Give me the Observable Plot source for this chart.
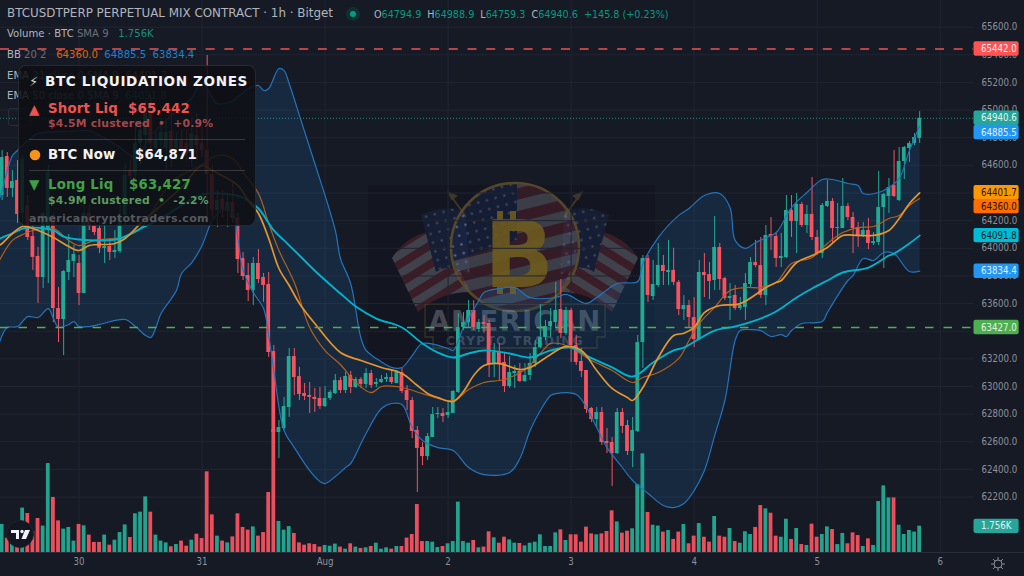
<!DOCTYPE html>
<html><head><meta charset="utf-8">
<script src="https://cdn.jsdelivr.net/npm/d3@7"></script>
<script src="https://cdn.jsdelivr.net/npm/@observablehq/plot@0.6"></script>
<style>
html,body{margin:0;padding:0;background:#161a25;width:1024px;height:576px;overflow:hidden;font-family:"DejaVu Sans",sans-serif}
#wm,#chart{position:absolute;left:0;top:0}
.t{position:absolute;white-space:pre;line-height:1}
#panel{position:absolute;left:18px;top:65px;width:238px;height:161px;box-sizing:border-box;border:1px solid rgba(255,255,255,.1);border-radius:8px;background:rgba(14,15,19,.86)}
.hr{position:absolute;left:29px;width:216px;height:1px;background:rgba(255,255,255,.17)}
.lg{font-size:10.1px;color:#b2b5be}
.dim{color:#6c6f78}
</style></head><body>
<svg id="wm" width="1024" height="576" viewBox="0 0 1024 576">
<defs>
<pattern id="stL" width="16" height="16" patternUnits="userSpaceOnUse" patternTransform="rotate(-32)"><rect width="16" height="8" fill="#8c2c36"/><rect y="8" width="16" height="8" fill="#9a9aa0"/></pattern>
<pattern id="stR" width="16" height="16" patternUnits="userSpaceOnUse" patternTransform="rotate(32)"><rect width="16" height="8" fill="#8c2c36"/><rect y="8" width="16" height="8" fill="#9a9aa0"/></pattern>
<pattern id="stC" width="22" height="22" patternUnits="userSpaceOnUse" patternTransform="rotate(-14)"><rect width="22" height="11" fill="#7c2832"/><rect y="11" width="22" height="11" fill="#8f8f96"/></pattern>
<pattern id="stars" width="9" height="9" patternUnits="userSpaceOnUse" patternTransform="rotate(-15)"><rect width="9" height="9" fill="#1c2f5c"/><circle cx="4.5" cy="4.5" r="1.3" fill="#a9adb8"/></pattern>
<clipPath id="disc"><circle cx="515" cy="247" r="63"/></clipPath>
</defs>
<rect x="368" y="185" width="287" height="205" fill="#0d1119" opacity=".35"/>
<g opacity=".33">
<path d="M392,258 Q408,232 441,230 L470,292 Q440,292 418,312 Z" fill="url(#stL)"/>
<path d="M638,258 Q622,232 589,230 L560,292 Q590,292 612,312 Z" fill="url(#stR)"/>
<path d="M421,215 Q445,203 465,212 L470,275 Q450,262 436,272 Z" fill="url(#stars)"/>
<path d="M609,215 Q585,203 565,212 L560,275 Q580,262 594,272 Z" fill="url(#stars)"/>
</g>
<g opacity=".5" stroke="#6a5830" stroke-width="2" fill="#6a5830">
<line x1="449" y1="193" x2="466" y2="217"/><line x1="581" y1="193" x2="564" y2="217"/>
<path d="M449,193 l7,3 l-4,3 z"/><path d="M581,193 l-7,3 l4,3 z"/>
</g>
<g clip-path="url(#disc)" opacity=".33">
<rect x="450" y="180" width="130" height="135" fill="url(#stC)"/>
<path d="M450,180 H517 V240 L450,262 Z" fill="url(#stars)"/>
</g>
<circle cx="515" cy="247" r="64" fill="none" stroke="#5c4c2a" stroke-width="2.6" opacity=".9"/>
<g fill="#6e5b1f" opacity=".9">
<rect x="497" y="211" width="6" height="16"/><rect x="510" y="211" width="6" height="16"/>
<rect x="497" y="278" width="6" height="16"/><rect x="510" y="278" width="6" height="16"/>
<text x="519" y="287" text-anchor="middle" font-family="DejaVu Sans" font-weight="700" font-size="92">B</text>
</g>
<g opacity=".42">
<path d="M425,304 H605 V337 H597 V348 H433 V337 H425 Z" fill="#161a25" fill-opacity=".6" stroke="#6f5a2e" stroke-width="1.3"/>
<text x="515" y="331" text-anchor="middle" font-family="DejaVu Sans" font-weight="700" font-size="27.5" letter-spacing="1.2" fill="#8d9098">AMERICAN</text>
<text x="515" y="345" text-anchor="middle" font-family="DejaVu Sans" font-weight="700" font-size="12" letter-spacing="1.4" fill="#7c7f87">CRYPTO TRADING</text>
</g>
</svg>
<div id="chart"></div>

<div class="t" style="left:7px;top:8px;font-size:11.9px;color:#b2b5be">BTCUSDTPERP PERPETUAL MIX CONTRACT · 1h · Bitget</div>
<svg style="position:absolute;left:343px;top:4px" width="20" height="20"><circle cx="10" cy="10" r="7" fill="#0b3a36" opacity=".7"/><circle cx="10" cy="10" r="3" fill="#089981"/></svg>
<div class="t" style="left:374px;top:10px;font-size:9.6px;color:#089981"><span style="color:#b2b5be">O</span>64794.9 <span style="color:#b2b5be"> H</span>64988.9 <span style="color:#b2b5be"> L</span>64759.3 <span style="color:#b2b5be"> C</span>64940.6  +145.8 (+0.23%)</div>
<div class="t lg" style="left:7px;top:29px">Volume · BTC <span class="dim">SMA 9</span>   <span style="color:#168f7d">1.756K</span></div>
<div class="t lg" style="left:7px;top:50px">BB <span class="dim">20 2</span>   <span style="color:#e0640f">64360.0</span>  <span style="color:#2180d0">64885.5</span>  <span style="color:#2180d0">63834.4</span></div>
<div class="t lg" style="left:7px;top:71px">EMA <span class="dim">21 close 0 SMA 9</span>  <span style="color:#a86c18">64401.7</span></div>
<div class="t lg" style="left:7px;top:91px">EMA <span class="dim">50 close 0 SMA 9</span>  <span style="color:#0b7c8a">64091.8</span></div>
<div style="position:absolute;left:8px;top:108px;width:21px;height:16px;border:1px solid #2a2e39;border-radius:3px"></div>

<div id="panel"></div>
<div class="t" style="left:29px;top:75px;font-size:13px;font-weight:700;color:#d6d7da">⚡</div>
<div class="t" style="left:45px;top:75px;font-size:13.6px;font-weight:700;color:#f2f2f4;letter-spacing:.6px">BTC LIQUIDATION ZONES</div>
<div class="t" style="left:29px;top:103px;font-size:13.5px;color:#ef5350">▲</div>
<div class="t" style="left:48px;top:102px;font-size:13.3px;font-weight:700;color:#ef5350;letter-spacing:.2px">Short Liq</div>
<div class="t" style="left:128px;top:102px;font-size:13.3px;font-weight:700;color:#ef5350;letter-spacing:.2px">$65,442</div>
<div class="t" style="left:48px;top:119px;font-size:10.8px;font-weight:700;color:#a5474c;letter-spacing:.25px">$4.5M clustered  •  +0.9%</div>
<div class="hr" style="top:139px"></div>
<svg style="position:absolute;left:29px;top:148px" width="13" height="14"><circle cx="6" cy="7" r="5.3" fill="#f7931a"/></svg>
<div class="t" style="left:48px;top:148px;font-size:13.3px;font-weight:700;color:#f2f2f4;letter-spacing:.2px">BTC Now</div>
<div class="t" style="left:135px;top:148px;font-size:13.3px;font-weight:700;color:#f2f2f4;letter-spacing:.2px">$64,871</div>
<div class="hr" style="top:170px"></div>
<div class="t" style="left:29px;top:178px;font-size:13.5px;color:#3f9f47">▼</div>
<div class="t" style="left:48px;top:178px;font-size:13.3px;font-weight:700;color:#43a047;letter-spacing:.2px">Long Liq</div>
<div class="t" style="left:129px;top:178px;font-size:13.3px;font-weight:700;color:#43a047;letter-spacing:.2px">$63,427</div>
<div class="t" style="left:48px;top:196px;font-size:10.8px;font-weight:700;color:#5c9a60;letter-spacing:.25px">$4.9M clustered  •  -2.2%</div>
<div class="t" style="left:29px;top:213px;font-size:11px;font-weight:700;color:#55585f;letter-spacing:.3px">americancryptotraders.com</div>

<svg style="position:absolute;left:6px;top:520px" width="28" height="28"><circle cx="14" cy="14" r="13.5" fill="#131722" stroke="#1f2330"/><path d="M5,10 H13 V19 H10 V13 H5 Z" fill="#f0f3fa"/><circle cx="16" cy="11.5" r="1.7" fill="#f0f3fa"/><path d="M19,10 H24 L20,19 H15.5 Z" fill="#f0f3fa"/></svg>
<svg style="position:absolute;left:991px;top:557px" width="14" height="14" fill="none" stroke="#8a8d96"><circle cx="7" cy="7" r="4"/><path d="M7,0 V3 M7,11 V14 M0,7 H3 M11,7 H14 M2,2 L4,4 M10,10 L12,12 M2,12 L4,10 M10,4 L12,2"/></svg>

<script>
const firstHour=-15;
const opens=[64382,64664,64433,64491,64252,64310,64085,63941,63789,64129,
64237,63564,63485,63825,63905,63890,63673,64252,64158,64143,
63999,64013,63970,63977,64237,64563,64541,64758,64816,64983,
64722,64780,64722,64845,64722,64780,64758,64686,64816,64758,
64708,64534,64274,64353,64281,64331,64216,63926,63803,63695,
63890,63789,63738,63253,62667,62696,62848,63217,63072,62949,
62935,62921,62913,62855,62913,62949,63043,62971,63080,62993,
63051,63015,63094,63015,63029,63051,63065,63022,63101,62971,
62899,62682,62559,62493,62631,62797,62805,62790,62805,62957,
63427,63463,63550,63413,63463,63456,63159,63246,63174,63000,
63094,63109,63036,63080,63167,63282,63355,63434,63463,63557,
63384,63550,63297,63181,63116,62841,62761,62812,62602,62595,
62515,62812,62718,62530,62674,63318,63926,63651,63731,63876,
63825,63840,63753,63557,63586,63499,63340,63825,63810,63767,
64006,63781,63637,63659,63564,63572,63738,63897,63875,63659,
64100,64085,63926,63933,64274,64194,64317,64165,64245,64078,
63962,64303,64339,64143,64143,64303,64223,64151,64093,64129,
64035,64042,64295,64375,64454,64346,64628,64722,64758,64794.9];
const closes=[64657,64433,64483,64245,64642,64078,63934,63789,64252,64548,
63564,63485,63832,63912,63955,63673,64252,64158,64114,64000,
64013,63970,63984,64223,64527,64520,64758,64852,64983,64758,
64780,64838,64838,64708,64780,64708,64686,64831,64744,64708,
64534,64274,64346,64281,64331,64216,63919,63796,63695,63890,
63774,63731,63246,62667,62703,62855,63217,63065,62942,62928,
62921,62906,62855,62913,62957,63043,62971,63073,62993,63051,
63015,63094,63007,63029,63051,63065,63029,63101,62964,62899,
62675,62552,62493,62638,62797,62805,62783,62812,62964,63427,
63463,63550,63427,63463,63449,63159,63246,63159,63000,63101,
63109,63036,63080,63167,63282,63355,63434,63470,63550,63384,
63550,63297,63174,63109,62834,62761,62812,62595,62588,62515,
62812,62711,62530,62682,63318,63926,63659,63738,63876,63832,
63840,63753,63557,63586,63499,63340,63825,63803,63760,64006,
63774,63637,63651,63564,63586,63745,63897,63875,63659,64093,
64085,63926,63941,64274,64194,64317,64165,64245,64078,63962,
64310,64339,64143,64151,64303,64223,64143,64085,64129,64035,
64049,64295,64389,64440,64375,64628,64729,64758,64802,64940.6];
const highs=[64708,64693,64563,64635,64671,64382,64165,64006,64259,64599,
64260,63716,63840,64100,64020,63948,64310,64310,64237,64201,
64201,64071,64129,64310,64614,64635,64903,64925,65070,65106,
64838,64939,64925,64975,64838,64852,64852,64947,64975,64888,
65395,64599,64418,64418,64404,64469,64252,63970,63890,63933,
63991,63818,63825,63297,62754,62920,63275,63275,63138,63022,
63029,62986,62993,63000,62971,63087,63065,63101,63109,63065,
63065,63130,63116,63058,63080,63094,63116,63116,63130,63007,
62920,62711,62595,62660,62848,62848,62841,62884,62971,63528,
63535,63622,63622,63485,63514,63478,63311,63311,63239,63217,
63152,63166,63166,63239,63333,63593,63478,63564,63753,63774,
63572,63564,63369,63275,63116,62848,62848,62848,62696,62631,
62841,62841,62754,62776,63369,63948,63948,63912,64035,63948,
64057,64000,63767,63658,63622,63644,63912,63962,63897,64230,
64035,63789,63745,63731,63644,63818,63933,64057,64078,64165,
64223,64107,64107,64382,64382,64396,64331,64310,64512,64129,
64324,64491,64360,64324,64505,64324,64259,64187,64187,64216,
64114,64556,64396,64505,64708,64729,64737,64773,64831,64988.9];
const lows=[64346,64368,64368,64180,64165,64057,63840,63601,63709,63745,
63463,63318,63224,63767,63789,63586,63673,64129,64093,63962,
63890,63912,63926,63962,64165,64491,64491,64599,64635,64671,
64635,64635,64563,64585,64635,64635,64635,64585,64635,64657,
64180,64216,64151,64216,64151,64180,63818,63767,63615,63586,
63745,63608,63210,62479,62479,62682,62776,62935,62899,62899,
62805,62812,62834,62848,62899,62942,62949,62949,62949,62986,
62986,62986,62986,62993,63022,63029,63015,63022,62949,62826,
62624,62233,62428,62465,62631,62768,62739,62768,62805,62950,
63405,63420,63405,63391,63384,63065,63065,63043,62957,62986,
62986,63029,63029,63043,63138,63275,63333,63355,63420,63347,
63369,63174,63152,63065,62805,62739,62696,62573,62515,62276,
62508,62660,62501,62414,62667,63130,63608,63622,63717,63731,
63731,63731,63514,63478,63427,63282,63333,63644,63629,63695,
63695,63622,63478,63550,63550,63478,63717,63861,63637,63586,
63984,63861,63861,63926,64078,63962,64151,64107,64057,63948,
63926,64295,64042,64057,64143,64201,63962,64006,64078,63991,
64020,64020,63854,64252,64368,64339,64498,64621,64744,64759.3];
const volumes=[1.87,0.95,0.6,0.6,2.96,2.6,1.38,2.27,1.76,5.93,
3.67,2.11,1.56,1.67,0.76,1.87,1.78,1.16,0.67,0.67,
1.16,0.49,0.82,1.33,1.84,1.0,2.58,2.69,3.71,2.69,
1.16,0.76,0.64,0.38,0.53,0.76,0.42,0.82,1.22,0.93,
5.38,2.51,1.09,0.76,0.64,1.04,2.58,1.67,1.49,1.71,
1.09,1.33,4.0,8.2,2.07,1.49,1.73,1.27,0.64,0.49,
0.58,0.53,0.36,0.47,0.42,0.56,0.36,0.22,0.58,0.36,
0.27,0.31,0.4,0.62,0.22,0.31,0.22,0.4,0.4,0.96,
1.2,3.2,0.73,0.73,0.69,0.33,0.4,0.58,0.73,3.36,
0.73,0.62,0.8,0.31,0.36,1.38,0.98,0.62,1.02,0.84,
0.62,0.6,0.44,0.62,0.69,1.18,0.4,0.4,1.31,1.51,
0.8,1.18,1.18,0.69,1.69,1.24,1.18,1.24,1.4,2.78,
2.04,1.29,1.42,1.58,4.53,6.58,2.67,1.82,1.76,1.36,
1.47,0.87,1.36,1.87,0.58,1.09,1.93,1.02,0.69,2.4,
1.09,1.02,1.6,0.73,0.62,1.38,1.2,1.67,3.13,2.91,
2.62,1.09,1.02,2.22,0.87,1.6,0.53,0.47,1.89,1.02,
1.2,1.71,1.53,0.53,1.27,0.58,1.31,1.13,0.4,0.91,
0.47,3.4,4.44,3.64,3.64,1.82,1.2,1.47,1.36,1.756];

const upperH=[-16,-15,-14,-13,-12,-10,-8,-2,2,4,8,11,14,18,22,24,27,30,33,35,36,37,39,40,41,43,46,50,51,53,55,56,58,61,63,65,67,72,73,75,78,79,82,85,88,93,95,99,101,105,109,110,113,117,119,122,125,127,128,130,132,136,137,139,142,145,147,150,152,153,156,158,160,162,164];
const upperV=[64310,64418,64563,64671,64708,64780,64831,64845,64852,64816,64730,64660,64816,64961,65091,65200,65048,65070,65156,65178,65142,65156,65301,65286,65192,64960,64614,64129,63926,63745,63350,63261,63203,63138,63138,63224,63311,63275,63261,63427,63622,63680,63709,63716,63644,63644,63666,63601,63644,63745,63760,63890,64078,64238,64288,64382,64397,64295,64057,64000,64042,64114,64165,64295,64404,64498,64498,64469,64454,64396,64404,64440,64505,64708,64885.5];
const lowerH=[-16,-15,-14,-12,-10,-8,-6,-5,-4,-2,-1,0,2,4,9,11,13,14,15,16,19,20,22,24,26,28,30,31,32,34,36,37,38,40,42,45,47,48,50,52,53,55,56,59,61,63,65,67,70,73,76,79,84,86,88,90,92,93,97,99,101,103,106,108,111,114,116,118,120,122,124,126,128,129,131,133,135,137,138,139,141,145,146,148,150,151,153,155,157,159,162,164];
const lowerV=[63260,63369,63427,63434,63506,63499,63564,63492,63427,63449,63470,63434,63434,63449,63485,63434,63369,63355,63427,63528,63695,63818,63897,64020,64201,64274,64259,64071,63840,63680,63564,63369,63116,62682,62558,62392,62313,62298,62349,62414,62443,62587,62660,62841,62877,62870,62703,62609,62558,62537,62414,62363,62378,62479,62682,62826,62935,62949,62942,62848,62703,62558,62414,62320,62226,62139,62124,62153,62247,62392,62645,62899,63333,63405,63412,63405,63362,63376,63362,63405,63456,63470,63535,63658,63767,63803,63926,63912,63970,63962,63832,63834.4];
const emaFastH=[-16,-15,-13,-11,-9,-5,-2,0,2,7,9,12,16,20,24,26,31,33,35,37,39,41,43,46,51,55,59,63,66,68,70,73,75,77,79,82,86,88,92,95,98,101,104,107,108,110,113,116,118,120,122,125,129,134,136,137,140,143,146,149,152,155,158,160,162,164];
const emaFastV=[64013,64035,64107,64158,64143,64078,64013,63984,64020,64035,64071,64180,64310,64440,64599,64563,64454,64346,64252,64071,63854,63731,63601,63456,63246,63188,63138,63094,63007,62950,62920,62892,62964,63080,63152,63166,63123,63138,63232,63290,63261,63116,62986,62920,62899,62993,63210,63369,63385,63427,63535,63586,63600,63716,63752,63767,63897,63948,64006,64093,64093,64093,64129,64216,64324,64401.7];
const basisH=[-16,-15,-13,-11,-9,-5,-2,0,3,7,9,12,18,24,27,30,32,35,37,39,42,45,48,51,54,57,59,63,67,73,76,79,83,87,90,92,95,100,104,108,110,113,117,119,121,124,127,130,133,136,139,143,146,149,152,155,158,160,162,164];
const basisV=[63875,63948,64057,64100,64129,64143,64057,64020,64057,64071,64085,64143,64476,64606,64671,64650,64549,64396,64180,63984,63752,63427,63260,63159,63029,62956,63000,62993,62949,62899,62978,63029,63051,63123,63239,63311,63297,63188,63116,63029,63065,63101,63203,63333,63456,63572,63695,63716,63716,63752,63890,63933,64035,64114,64150,64158,64216,64237,64310,64360];
const emaSlowH=[-16,-15,-13,-11,-9,-5,-3,0,5,8,12,16,20,24,28,32,35,38,40,43,47,51,54,58,63,67,70,73,76,79,84,88,92,96,99,104,108,112,116,118,124,128,132,136,140,143,146,149,154,158,159,162,164];
const emaSlowV=[64057,64078,64107,64143,64150,64129,64085,64064,64057,64071,64143,64216,64310,64389,64397,64367,64288,64129,64057,63948,63803,63673,63579,63492,63427,63311,63246,63210,63239,63261,63239,63210,63261,63282,63224,63138,63072,63174,63261,63282,63405,63434,63478,63543,63644,63709,63767,63825,63861,63948,63962,64035,64091.8];

const priceTicks=[62200,62400,62600,62800,63000,63200,63400,63600,63800,64000,64200,64400,64600,64800,65000,65200,65400,65600];
const dayTicks=[0,24,48,72,96,120,144,168];
const dayLabels=["30","31","Aug","2","3","4","5","6"];
const shortLiq=65442, longLiq=63427, lastClose=64940.6;
const tagText=["65442.0","64940.6","64885.5","64401.7","64360.0","64091.8","63834.4","63427.0","1.756K"];
const tagPos=[65442,64940.6,64838,64401.7,64302,64091.8,63834.4,63427,61988];
const tagFill=["#ff5252","#26a69a","#2196f3","#ff9800","#ff6d00","#00bcd4","#2196f3","#4caf50","#26a69a"];
const tagInk=["#f4f4f6","#e8f3f1","#e8f0f8","#20170a","#20140a","#0a1c20","#e8f0f8","#e8f3ea","#e8f3f1"];

const GREEN="#22ab94", RED="#f7525f";
const yMin=61799,yMax=65793, volUnit=108.5, halfBar=0.37, halfTag=52;
const xMin=-15.32,xMax=174.5,tagL=174.6,tagR=183.4,rightEnd=184.5;

const candles=opens.map((o,i)=>({h:firstHour+i,o,c:closes[i],hi:highs[i],lo:lows[i],v:volumes[i],col:closes[i]>=o?GREEN:RED}));
const pts=(H,V)=>H.map((h,i)=>({h,p:V[i]}));
const up=pts(upperH,upperV), dn=pts(lowerH,lowerV).reverse();
const band=[...up,up[up.length-1],dn[0],...dn];
const tags=tagText.map((t,i)=>({t,p:tagPos[i],f:tagFill[i],k:tagInk[i]}));
const smooth="catmull-rom";

const chart=Plot.plot({
  width:1024,height:576,marginLeft:0,marginRight:51,marginTop:0,marginBottom:24,
  x:{type:"linear",domain:[xMin,xMax],axis:null},
  y:{type:"linear",domain:[yMin,yMax],axis:null},
  style:{background:"transparent",fontFamily:'"DejaVu Sans Condensed","DejaVu Sans",sans-serif',fontSize:"9.6px",overflow:"hidden"},
  marks:[
    Plot.gridY(priceTicks,{stroke:"#212532",strokeOpacity:1}),
    Plot.gridX(dayTicks,{stroke:"#212532",strokeOpacity:1}),
    Plot.line(band,{x:"h",y:"p",fill:"#2196f3",fillOpacity:.13,stroke:"none",curve:smooth}),
    Plot.rect(candles,{x1:d=>d.h-halfBar,x2:d=>d.h+halfBar,y1:yMin,y2:d=>yMin+d.v*volUnit,fill:"col",fillOpacity:.95}),
    Plot.ruleX(candles,{x:"h",y1:"lo",y2:"hi",stroke:"col",strokeWidth:1}),
    Plot.rect(candles,{x1:d=>d.h-halfBar,x2:d=>d.h+halfBar,y1:"o",y2:"c",fill:"col"}),
    Plot.line(pts(upperH,upperV),{x:"h",y:"p",stroke:"#2474bd",strokeWidth:1.2,curve:smooth}),
    Plot.line(pts(lowerH,lowerV),{x:"h",y:"p",stroke:"#2474bd",strokeWidth:1.2,curve:smooth}),
    Plot.line(pts(basisH,basisV),{x:"h",y:"p",stroke:"#b5601a",strokeWidth:1.2,curve:smooth}),
    Plot.line(pts(emaSlowH,emaSlowV),{x:"h",y:"p",stroke:"#00b2cc",strokeWidth:1.9,curve:smooth}),
    Plot.line(pts(emaFastH,emaFastV),{x:"h",y:"p",stroke:"#e8942a",strokeWidth:1.7,curve:smooth}),
    Plot.ruleY([lastClose],{x1:xMin,x2:xMax,stroke:"#26a69a",strokeOpacity:.8,strokeDasharray:"1,2"}),
    Plot.ruleY([shortLiq],{x1:xMin,x2:xMax,stroke:"#ef5350",strokeWidth:1.6,strokeDasharray:"9,9.7"}),
    Plot.ruleY([longLiq],{x1:xMin,x2:xMax,stroke:"#4caf50",strokeWidth:1.6,strokeDasharray:"8.5,10"}),
    Plot.ruleY([yMin],{x1:xMin,x2:rightEnd,stroke:"#2a2e39"}),
    Plot.axisY(priceTicks,{anchor:"right",tickSize:0,tickPadding:8,tickFormat:d=>d.toFixed(1),fill:"#8f929b",label:null}),
    Plot.axisX(dayTicks,{anchor:"bottom",tickSize:0,tickPadding:6,tickFormat:d=>dayLabels[dayTicks.indexOf(d)],fill:"#8f929b",label:null}),
    Plot.rect(tags,{x1:tagL,x2:tagR,y1:d=>d.p-halfTag,y2:d=>d.p+halfTag,fill:"f",rx:2}),
    Plot.text(tags,{x:tagL,y:"p",text:"t",fill:"k",dx:7,textAnchor:"start",fontSize:9.6})
  ]
});
document.getElementById("chart").appendChild(chart);
</script>
</body></html>
